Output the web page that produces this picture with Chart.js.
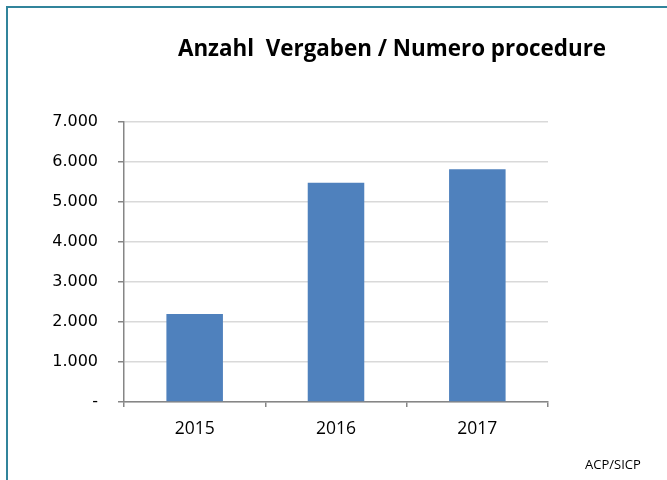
<!DOCTYPE html>
<html>
<head>
<meta charset="utf-8">
<script src="https://cdn.jsdelivr.net/npm/chart.js@4"></script>
<style>
  html, body { margin: 0; padding: 0; background: #fff; }
  #wrap { position: relative; width: 667px; height: 480px; }
  #frame { position: absolute; left: 6px; top: 6px; right: -10px; bottom: -10px; border-left: 2px solid #31849b; border-top: 2px solid #31849b; }
  canvas { position: absolute; left: 0; top: 0; }
</style>
</head>
<body>
<div id="wrap">
  <canvas id="chart" width="667" height="480"></canvas>
  <div id="frame"></div>
</div>
<script>
const titleText = 'Anzahl  Vergaben / Numero procedure';
const sourceText = 'ACP/SICP';
const years = ['2015', '2016', '2017'];
const procedures = [2200, 5480, 5820];
const yTicks = [0, 1000, 2000, 3000, 4000, 5000, 6000, 7000];

// title and source note are placed freely, like in the original sheet
const textPlugin = {
    id: 'sheetText',
    afterDraw(chart) {
        const ctx = chart.ctx;
        ctx.save();
        ctx.fillStyle = '#000';
        ctx.textAlign = 'center';
        ctx.textBaseline = 'alphabetic';
        ctx.font = 'bold 22.4px "Open Sans"';
        ctx.fillText(titleText, 392, 56);
        ctx.font = '13px "Open Sans"';
        ctx.fillText(sourceText, 613, 469);
        ctx.restore();
    }
};

new Chart(document.getElementById('chart'), {
    type: 'bar',
    data: {
        labels: years,
        datasets: [{
            data: procedures,
            backgroundColor: '#4f81bd',
            barPercentage: 0.4,
            categoryPercentage: 1
        }]
    },
    options: {
        responsive: false,
        animation: false,
        layout: { padding: { top: 122, left: 0, right: 119, bottom: 38 } },
        plugins: { legend: { display: false }, tooltip: { enabled: false } },
        scales: {
            y: {
                min: 0, max: 7000,
                afterFit: s => { s.width = 124; },
                afterBuildTicks: s => { s.ticks = yTicks.map(v => ({ value: v })); },
                ticks: {
                    padding: 20,
                    color: '#000',
                    font: { family: '"DejaVu Sans"', size: 16 },
                    callback: v => v === 0 ? '-' : v.toLocaleString('de-DE')
                },
                grid: { color: '#d9d9d9', lineWidth: 1.5, tickColor: '#868686', tickLength: 6 },
                border: { color: '#868686', width: 1.5 }
            },
            x: {
                afterFit: s => { s.height = 40; },
                ticks: {
                    padding: 12,
                    color: '#000',
                    font: { family: '"Open Sans"', size: 17.5 }
                },
                grid: { drawOnChartArea: false, tickColor: '#868686', tickLength: 5, lineWidth: 1.5 },
                border: { color: '#868686', width: 1.5 }
            }
        }
    },
    plugins: [textPlugin]
});
</script>
</body>
</html>
